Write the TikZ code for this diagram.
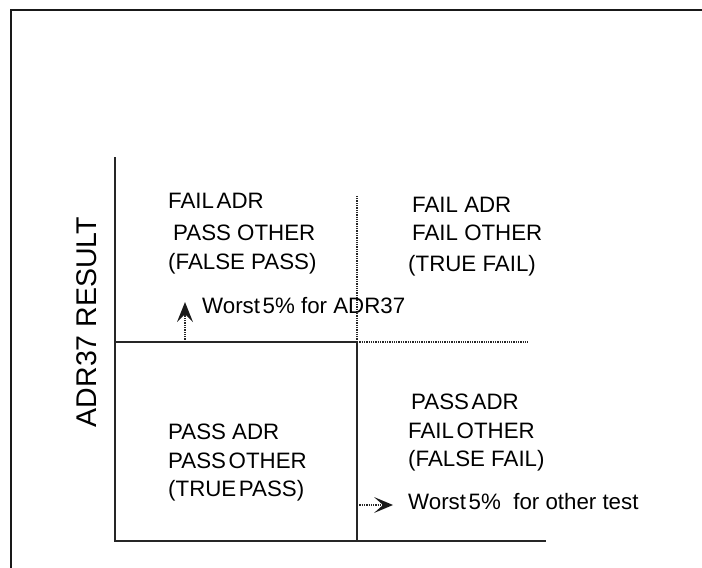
\documentclass[tikz,border=0pt]{standalone}
\usepackage{fontspec}
\setmainfont{Liberation Sans}
% narrow word gap used in several labels
\newcommand{\tsp}{\hspace{0.12em}}
\begin{document}
\begin{tikzpicture}[x=1pt,y=-1pt,
  axis/.style={line width=1.5pt,black!85},
  dotline/.style={line width=1.3pt,densely dotted,black!85},
  headfill/.style={fill=black!90},
  lbl/.style={anchor=base west,inner sep=0pt,font=\fontsize{22.3}{26}\selectfont},
  axlabel/.style={inner sep=0pt,rotate=90,font=\fontsize{28.5}{32}\selectfont}]
\useasboundingbox (0,0) rectangle (702,568);
% outer frame (top and left edges)
\draw[line width=2pt,black!90] (11,569) -- (11,10) -- (703,10);
% corners of the plot
\coordinate (o) at (115,541);
\coordinate (ytop) at (115,157);
\coordinate (xend) at (546,541);
\coordinate (hl) at (115,342);
\coordinate (c) at (357,342);
\coordinate (hr) at (528,342);
\coordinate (vt) at (357,195);
\coordinate (vb) at (357,541);
% axes
\draw[axis] (ytop) -- (o) -- (xend);
% thresholds: solid part and dotted continuation
\draw[axis] (hl) -- (c) -- (vb);
\draw[dotline] (c) -- (hr);
\draw[dotline] (c) -- (vt);
% threshold pointers: dotted shaft, solid barbed head
\coordinate (upbase) at (185,342);
\coordinate (upneck) at (185,314);
\coordinate (uptip) at (185,302);
\coordinate (rtbase) at (357,505);
\coordinate (rtneck) at (383,505);
\coordinate (rttip) at (393,505);
\draw[dotline] (upbase) -- (upneck);
\fill[headfill] (uptip) -- ++(8,20) -- ++(-8,-8) -- ++(-8,8) -- cycle;
\draw[dotline] (rtbase) -- (rtneck);
\fill[headfill] (rttip) -- ++(-19,-8) -- ++(9,8) -- ++(-9,8) -- cycle;
% quadrant labels
\node[lbl] (fa1) at (168,208) {FAIL\tsp ADR};
\node[lbl] (po1) at (173,240) {PASS OTHER};
\node[lbl] (fp1) at (168,269) {(FALSE PASS)};
\node[lbl] (fa2) at (412,212) {FAIL ADR};
\node[lbl] (fo2) at (412,240) {FAIL OTHER};
\node[lbl] (tf2) at (408,271) {(TRUE FAIL)};
\node[lbl] (pa3) at (168,439) {PASS ADR};
\node[lbl] (po3) at (168,468) {PASS\tsp OTHER};
\node[lbl] (tp3) at (168,496) {(TRUE\tsp PASS)};
\node[lbl] (pa4) at (411,409) {PASS\tsp ADR};
\node[lbl] (fo4) at (408,438) {FAIL\tsp OTHER};
\node[lbl] (ff4) at (408,466) {(FALSE FAIL)};
% pointer captions
\node[lbl] (w1) at (202,313) {Worst\tsp 5\% for ADR37};
\node[lbl] (w2) at (408,509) {Worst\tsp 5\%\ \ for other test};
% axis label
\node[axlabel] (ylab) at (87,322) {ADR37 RESULT};
\end{tikzpicture}
\end{document}
